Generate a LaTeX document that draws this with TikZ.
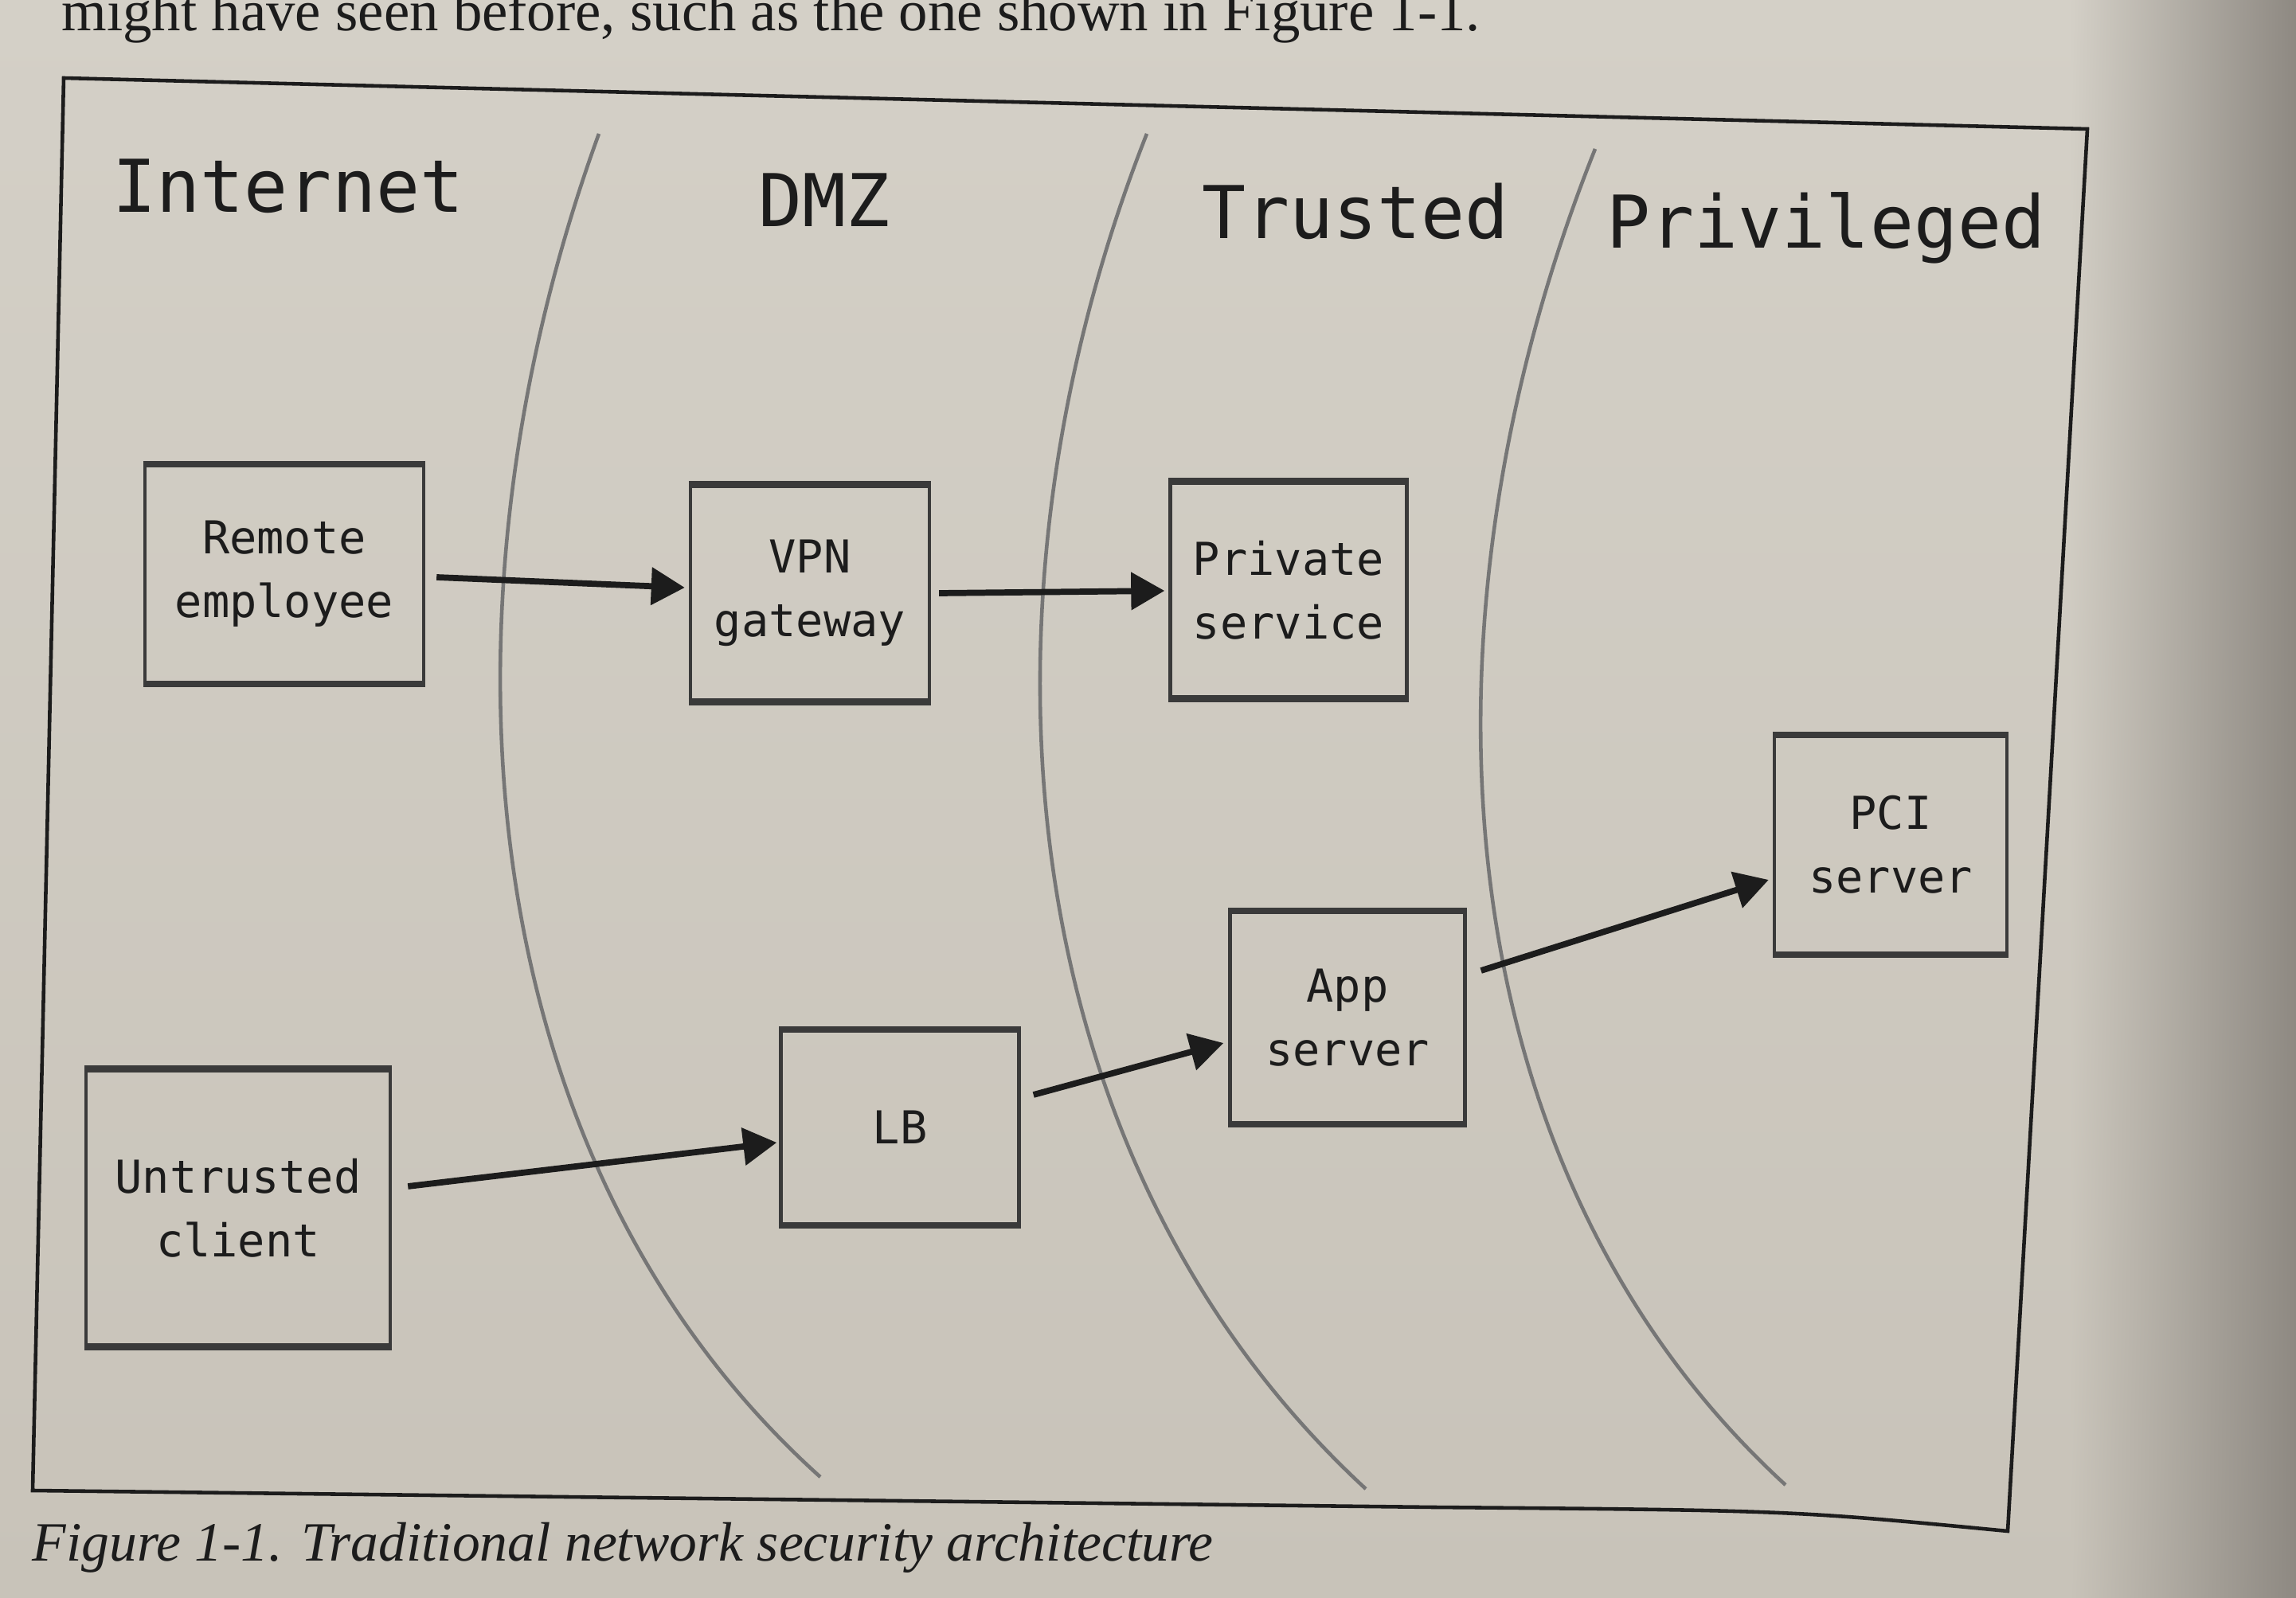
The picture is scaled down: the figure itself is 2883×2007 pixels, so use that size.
\documentclass[tikz,border=0pt]{standalone}
\usepackage{fontspec}
\newfontfamily\dvm{DejaVu Sans Mono}
\newfontfamily\bodyserif{Liberation Serif}
\usetikzlibrary{arrows.meta,calc,shadings}
\definecolor{paper}{HTML}{C8C3B9}
\definecolor{paperlight}{HTML}{D4D0C7}
\definecolor{papershade}{HTML}{8E8982}
\definecolor{ink}{HTML}{1C1C1C}
\definecolor{boxline}{HTML}{3A3A3A}
\definecolor{zoneline}{HTML}{767676}
\begin{document}
\begin{tikzpicture}[x=0.01cm,y=-0.01cm,
  zone/.style={draw=zoneline,line width=1.3pt},
  heading/.style={anchor=base,text=ink,font=\dvm\fontsize{26pt}{30pt}\selectfont,inner sep=0pt},
  sysbox/.style={draw=boxline,line width=1.2pt,text=ink,align=center,font=\dvm\fontsize{16.2pt}{22.8pt}\selectfont,inner sep=0pt},
  heavyedge/.style={draw=boxline,line width=2.4pt},
  flow/.style={draw=ink,line width=2.2pt,-{Triangle[length=0.42cm,width=0.46cm]}},
  frameline/.style={draw=ink,line width=1.3pt},
  pagetext/.style={anchor=base west,inner sep=0pt,text=ink}]
\shade[top color=paperlight,bottom color=paper] (0,0) rectangle (2600,2007);
\shade[upper left=paperlight,lower left=paper,upper right=papershade,lower right=papershade] (2599,0) rectangle (2883,2007);
\useasboundingbox (0,0) rectangle (2883,2007);

% page text
\node[pagetext] (topline) at (77,39) {\resizebox{17.8cm}{!}{\bodyserif might have seen before, such as the one shown in Figure 1-1.}};
\node[pagetext] (caption) at (40,1960) {\resizebox{14.82cm}{!}{\bodyserif\itshape Figure 1-1. Traditional network security architecture}};

% frame
\draw[frameline] (80,98) -- (2621,162) -- (2521,1923) .. controls (2250,1897) .. (1800,1893) -- (41,1872) -- cycle;

% zone boundaries
\draw[zone] (752,168) .. controls (540,750) and (580,1450) .. (1030,1855);
\draw[zone] (1440,168) .. controls (1210,750) and (1260,1450) .. (1715,1870);
\draw[zone] (2003,187) .. controls (1770,770) and (1800,1460) .. (2242,1865);

% zone headings
\node[heading] (hint) at (362,267) {Internet};
\node[heading] (hdmz) at (1035,285) {DMZ};
\node[heading] (htru) at (1702,300) {Trusted};
\node[heading] (hpri) at (2293,312) {Privileged};

% systems
\node[sysbox,minimum width=3.50cm,minimum height=2.72cm] (rem) at (357,721) {Remote\\employee};
\node[sysbox,minimum width=3.00cm,minimum height=2.69cm] (vpn) at (1017,745) {VPN\\gateway};
\node[sysbox,minimum width=2.97cm,minimum height=2.69cm] (priv) at (1618,741) {Private\\service};
\node[sysbox,minimum width=2.92cm,minimum height=2.72cm] (pci) at (2374,1061) {PCI\\server};
\node[sysbox,minimum width=2.95cm,minimum height=2.64cm] (app) at (1692,1278) {App\\server};
\node[sysbox,minimum width=2.99cm,minimum height=2.42cm] (lb) at (1130,1416) {LB};
\node[sysbox,minimum width=3.82cm,minimum height=3.45cm] (unt) at (299,1517) {Untrusted\\client};
\foreach \n in {rem,vpn,priv,pci,app,lb,unt}{
  \draw[heavyedge] (\n.north west) -- (\n.north east);
  \draw[heavyedge] (\n.south west) -- (\n.south east);
}

% flows
\draw[flow] ($(rem.east)+(14,4)$) -- ($(vpn.west)+(-5,-7)$);
\draw[flow] ($(vpn.east)+(10,0)$) -- ($(priv.west)+(-5,1)$);
\draw[flow] ($(unt.east)+(20,-27)$) -- ($(lb.west)+(-3,19)$);
\draw[flow] ($(lb.east)+(16,-41)$) -- ($(app.west)+(-6,32)$);
\draw[flow] ($(app.east)+(18,-59)$) -- ($(pci.west)+(-5,44)$);
\end{tikzpicture}
\end{document}
